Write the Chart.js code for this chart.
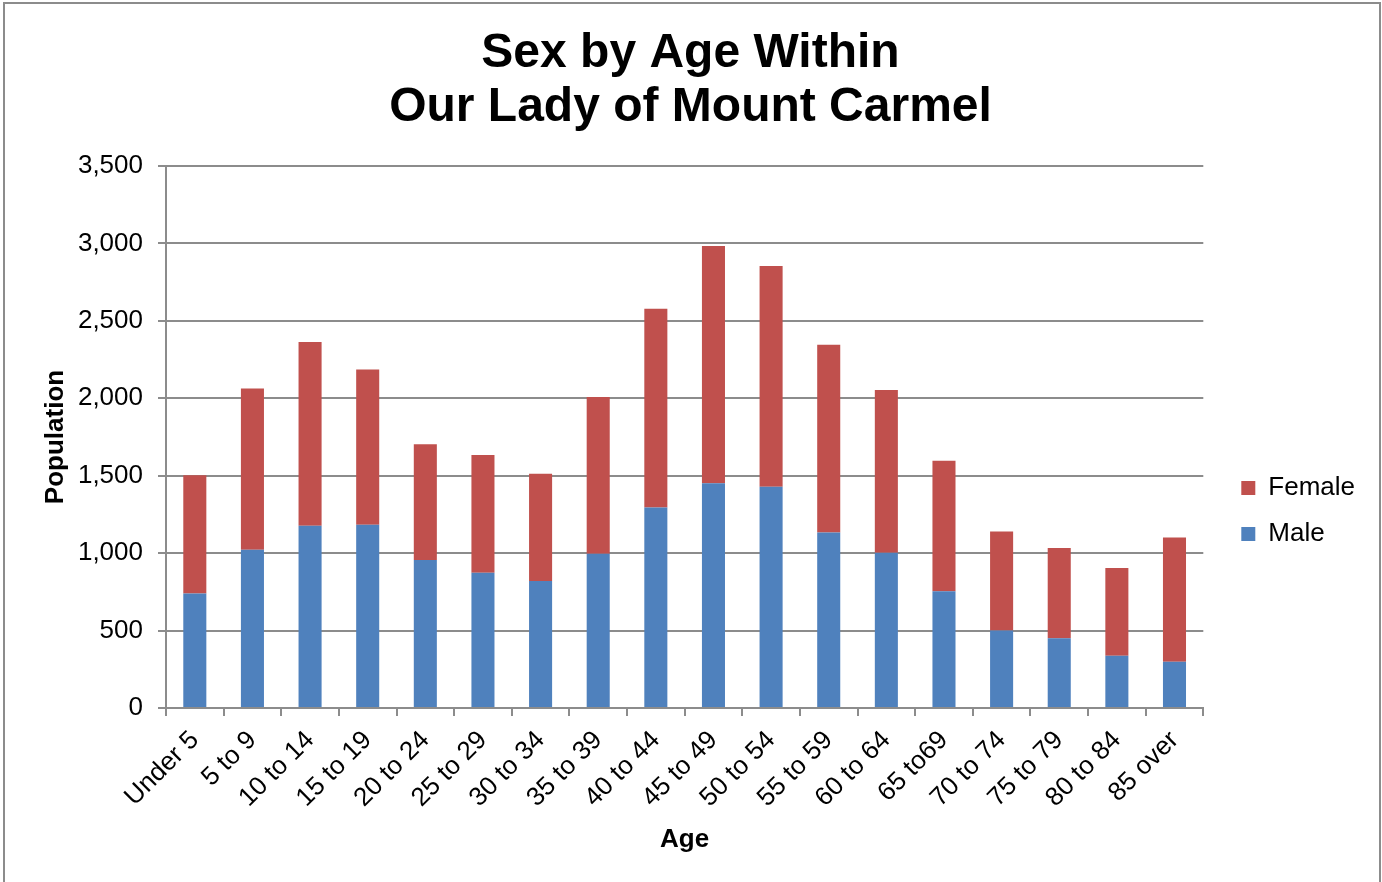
<!DOCTYPE html>
<html>
<head>
<meta charset="utf-8">
<script src="https://cdn.jsdelivr.net/npm/chart.js@4.4.1/dist/chart.umd.min.js"></script>
<style>
  html, body { margin: 0; padding: 0; background: #fff; }
  #age-chart { display: block; }
</style>
</head>
<body>
<canvas id="age-chart" width="1382" height="882"></canvas>
<script>
// data
const ageGroups = ["Under 5", "5 to 9", "10 to 14", "15 to 19", "20 to 24", "25 to 29", "30 to 34", "35 to 39", "40 to 44",
    "45 to 49", "50 to 54", "55 to 59", "60 to 64", "65 to69", "70 to 74", "75 to 79", "80 to 84", "85 over"];
const maleCounts = [740, 1022, 1177, 1184, 955, 874, 820, 996, 1294, 1451, 1428, 1133, 1003, 754, 500, 450, 338, 299];
const femaleCounts = [763, 1041, 1187, 1002, 748, 760, 692, 1013, 1284, 1532, 1427, 1213, 1051, 842, 640, 584, 566, 802];
const titleLines = ["Sex by Age Within", "Our Lady of Mount Carmel"];

const gridGray = '#8c8c8c';

Chart.defaults.font.family = "'Liberation Sans', Arial, sans-serif";
Chart.defaults.color = '#000';

// white background + outer frame like the excel chart area
const framePlugin = {
    id: 'frame',
    beforeDraw(chart) {
        const ctx = chart.ctx;
        ctx.save();
        ctx.fillStyle = '#fff';
        ctx.fillRect(0, 0, chart.width, chart.height);
        ctx.strokeStyle = gridGray;
        ctx.lineWidth = 2;
        ctx.strokeRect(4, 3, 1376, 900);
        ctx.restore();
    }
};

// nudge the legend (and title) to where excel put them
const layoutNudge = {
    id: 'layoutNudge',
    afterLayout(chart) {
        const lg = chart.legend;
        lg.left += 18;
        lg.right += 18;
        lg.top += 74;
        lg.bottom += 74;
        // title should be centred on the whole canvas, not the padded width
        chart.titleBlock.left += 17;
        chart.titleBlock.right += 17;
    }
};

const ageCanvas = document.getElementById('age-chart');

const ageData = {
    labels: ageGroups,
    datasets: [{
        label: 'Male',
        data: maleCounts,
        backgroundColor: '#4F81BD',
        borderWidth: 0,
        categoryPercentage: 1,
        barPercentage: 0.4
    }, {
        label: 'Female',
        data: femaleCounts,
        backgroundColor: '#C0504D',
        borderWidth: 0,
        categoryPercentage: 1,
        barPercentage: 0.4
    }]
};

const ageOptions = {
    responsive: false,
    animation: false,
    layout: {
        padding: { left: 0, right: 35, top: 0, bottom: 0 }
    },
    scales: {
        x: {
            stacked: true,
            afterFit(scale) { scale.height = 174; },
            grid: {
                offset: true,
                drawOnChartArea: false,
                drawTicks: true,
                tickLength: 8,
                color: gridGray,
                lineWidth: 2
            },
            border: { color: gridGray, width: 2 },
            ticks: {
                minRotation: 45,
                maxRotation: 45,
                padding: 9,
                font: { size: 26 },
                color: '#000'
            },
            title: {
                display: true,
                text: 'Age',
                font: { size: 26, weight: 'bold' },
                padding: { top: 0, bottom: 27 }
            }
        },
        y: {
            stacked: true,
            min: 0,
            max: 3500,
            afterFit(scale) { scale.width = 166; },
            grid: {
                color: gridGray,
                lineWidth: 2,
                tickLength: 8
            },
            border: { color: gridGray, width: 2 },
            ticks: {
                stepSize: 500,
                padding: 15,
                font: { size: 26 },
                color: '#000',
                callback: (v) => v.toLocaleString('en-US')
            },
            title: {
                display: true,
                text: 'Population',
                font: { size: 26, weight: 'bold' },
                padding: { top: 40, bottom: 0 }
            }
        }
    },
    plugins: {
        title: {
            display: true,
            text: titleLines,
            color: '#000',
            font: { size: 48, weight: 'bold', lineHeight: 54 / 48 },
            padding: { top: 27, bottom: 31 }
        },
        legend: {
            position: 'right',
            fullSize: false,
            reverse: true,
            labels: {
                boxWidth: 14,
                boxHeight: 14,
                padding: 20,
                font: { size: 26 },
                color: '#000'
            }
        },
        tooltip: { enabled: false }
    }
};

let ageChart = new Chart(ageCanvas, {
    type: 'bar',
    data: ageData,
    options: ageOptions,
    plugins: [framePlugin, layoutNudge]
});
</script>
</body>
</html>
